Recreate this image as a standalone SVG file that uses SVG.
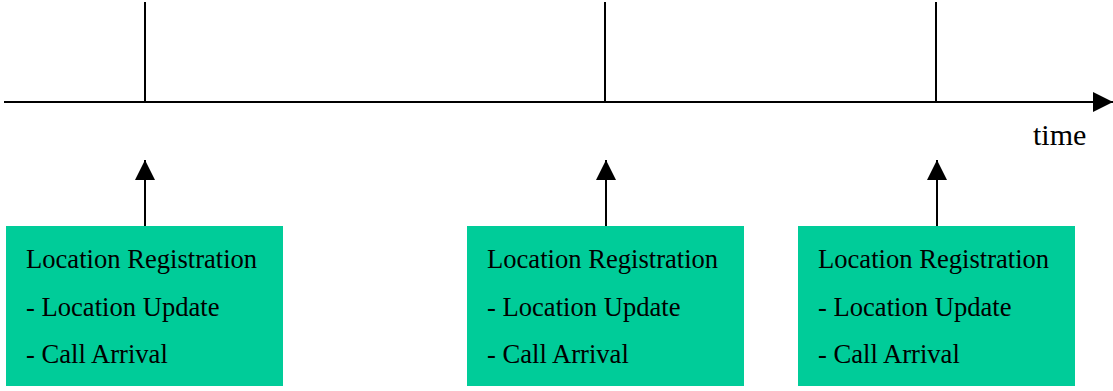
<svg xmlns="http://www.w3.org/2000/svg" width="1113" height="391" viewBox="0 0 1113 391">
<style>
.ln{stroke:#000;stroke-width:2;fill:none}
.box{fill:#00CC99}
.t{font-family:"Liberation Serif","Times New Roman",serif;font-size:26.6px;fill:#000}
.tm{font-size:30px}
</style>
<defs>
<marker id="ah" markerUnits="userSpaceOnUse" markerWidth="20" markerHeight="20" refX="20" refY="10" orient="auto"><path d="M0,0 L20,10 L0,20 Z" fill="#000"/></marker>
</defs>
<rect width="1113" height="391" fill="#fff"/>
<g id="connectors">
<line class="ln" x1="4" y1="102" x2="1113" y2="102" marker-end="url(#ah)"/>
<line class="ln" x1="145" y1="2" x2="145" y2="102"/>
<line class="ln" x1="605" y1="2" x2="605" y2="102"/>
<line class="ln" x1="936" y1="2" x2="936" y2="102"/>
<line class="ln" x1="145" y1="226" x2="145" y2="160" marker-end="url(#ah)"/>
<line class="ln" x1="606" y1="226" x2="606" y2="160" marker-end="url(#ah)"/>
<line class="ln" x1="937" y1="226" x2="937" y2="160" marker-end="url(#ah)"/>
</g>
<g id="time"><text class="t tm" x="1033" y="145">time</text></g>
<g id="node1">
<rect class="box" x="6" y="226" width="277" height="160"/>
<text class="t" x="26" y="268">Location Registration</text>
<text class="t" x="26" y="316">- Location Update</text>
<text class="t" x="26" y="363">- Call Arrival</text>
</g>
<g id="node2">
<rect class="box" x="467" y="226" width="277" height="160"/>
<text class="t" x="487" y="268">Location Registration</text>
<text class="t" x="487" y="316">- Location Update</text>
<text class="t" x="487" y="363">- Call Arrival</text>
</g>
<g id="node3">
<rect class="box" x="798" y="226" width="277" height="160"/>
<text class="t" x="818" y="268">Location Registration</text>
<text class="t" x="818" y="316">- Location Update</text>
<text class="t" x="818" y="363">- Call Arrival</text>
</g>
</svg>
